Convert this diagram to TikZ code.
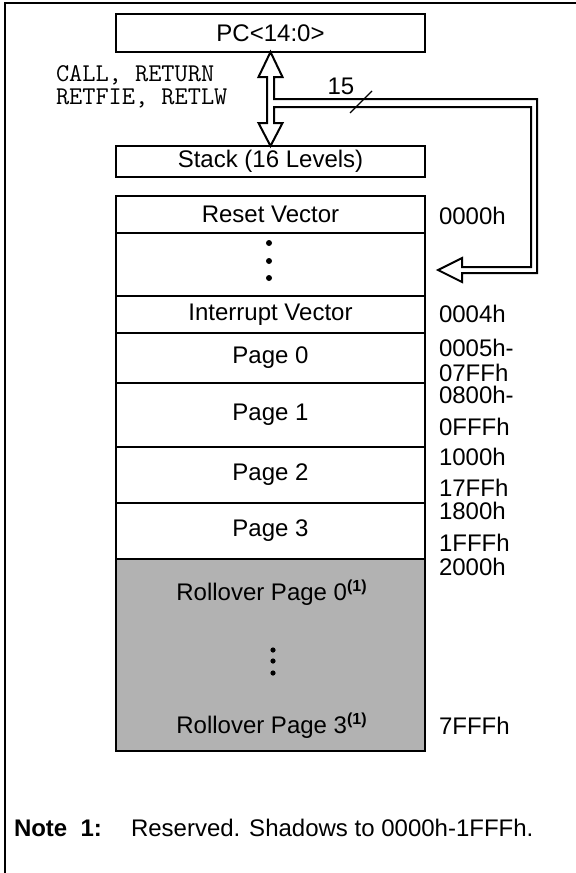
\documentclass[tikz,border=0pt]{standalone}
\usepackage{fontspec}
\setmainfont{Liberation Sans}
\usepackage{tikz}
\usetikzlibrary{calc}

\begin{document}
\begin{tikzpicture}[x=0.5pt, y=-0.5pt, line width=1pt,
    font=\fontsize{12}{14}\selectfont,
    mem/.style={draw, minimum width=154.5pt, inner sep=0pt, outer sep=0pt},
    addr/.style={anchor=west, inner sep=0pt},
    instr/.style={anchor=west, inner sep=0pt, align=left, font=\fontsize{12.8}{11.5}\selectfont\ttfamily}]
    \useasboundingbox (0,0) rectangle (576,873);

    % Frame
    \draw (576,3) -- (5,3) -- (5,873);

    % PC and stack
    \node[mem, minimum height=19pt] (pc) at (270.5,33) {PC<14:0>};
    \node[mem, minimum height=15.5pt] (stack) at (270.5,161.5) {Stack (16 Levels)};

    \node[instr] (instrs) at (55,87) {CALL, RETURN\\RETFIE, RETLW};

    % Program memory
    \node[mem, minimum height=18.5pt] (reset) at (270.5,214.5) {Reset Vector};
    \node[mem, minimum height=31.5pt] (vdots) at (270.5,264.5) {};
    \node[mem, minimum height=18.5pt] (intvec) at (270.5,314.5) {Interrupt Vector};
    \node[mem, minimum height=25pt] (page0) at (270.5,358) {Page 0};
    \node[mem, minimum height=32pt] (page1) at (270.5,415) {Page 1};
    \node[mem, minimum height=28pt] (page2) at (270.5,475) {Page 2};
    \node[mem, minimum height=28pt] (page3) at (270.5,531) {Page 3};
    \node[mem, minimum height=96pt, fill=black!30] (rollover) at (270.5,655) {};
    \node (roll0) at (272,593) {Rollover Page 0\textsuperscript{\textbf{(1)}}};
    \node (roll3) at (272,726) {Rollover Page 3\textsuperscript{\textbf{(1)}}};

    \fill (269,243) circle (1.5pt);
    \fill (269,261) circle (1.5pt);
    \fill (269,278) circle (1.5pt);
    \fill (273,650) circle (1.3pt);
    \fill (273,661) circle (1.3pt);
    \fill (273,673) circle (1.3pt);

    % Addresses
    \node[addr] (a0000) at (438,216) {0000h};
    \node[addr] (a0004) at (438,314) {0004h};
    \node[addr] (a0005) at (438,348) {0005h-};
    \node[addr] (a07ff) at (438,373) {07FFh};
    \node[addr] (a0800) at (438,395) {0800h-};
    \node[addr] (a0fff) at (438,427) {0FFFh};
    \node[addr] (a1000) at (438,457) {1000h};
    \node[addr] (a17ff) at (438,488) {17FFh};
    \node[addr] (a1800) at (438,511) {1800h};
    \node[addr] (a1fff) at (438,543) {1FFFh};
    \node[addr] (a2000) at (438,567) {2000h};
    \node[addr] (a7fff) at (438,726) {7FFFh};

    % Bus from PC to stack and vectors
    \coordinate (tip) at ($(vdots.east)+(13,5.5)$);
    \draw[line join=miter] (pc.south) -- ++(12,25) -- ++(-8.5,0) -- ++(0,22)
        -- ++(263,0) -- ++(0,174) -- ++(-75,0) -- ++(0,9) -- (tip)
        -- ++(24,-12) -- ++(0,9) -- ++(69,0) -- ++(0,-160) -- ++(-257,0)
        -- ++(0,16) -- ++(8.5,0) -- (stack.north) -- ++(-12,-23)
        -- ++(8.5,0) -- ++(0,-46) -- ++(-8.5,0) -- cycle;
    \node (buswidth) at (341,86) {15};
    \draw[line width=0.6pt] (350,113) -- (372,91);

    % Note
    \node[addr, font=\fontsize{12}{14}\selectfont\bfseries] (note) at (13,828) {Note\ \ 1:};
    \node[addr] (notetext) at (130,828) {Reserved. Shadows to 0000h-1FFFh.};
\end{tikzpicture}
\end{document}
